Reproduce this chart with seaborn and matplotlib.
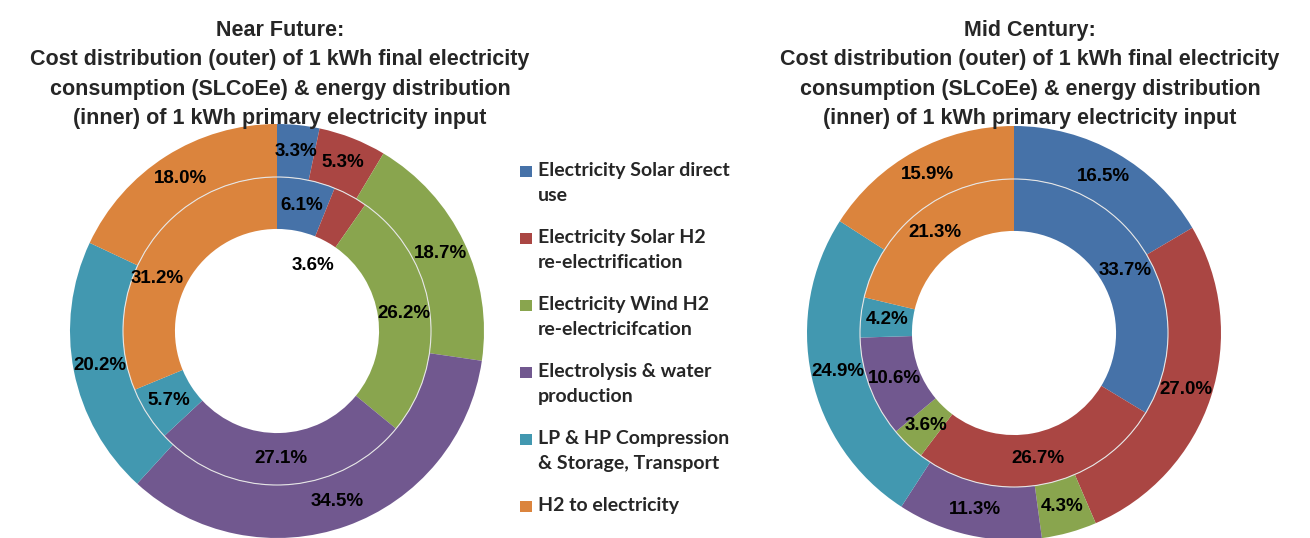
# -*- coding: utf-8 -*-

import numpy as np
import matplotlib
matplotlib.use('Agg')
import matplotlib.pyplot as plt
from matplotlib.patches import Circle, Rectangle
import seaborn as sns

# data
categories = ['Electricity Solar direct\nuse',
              'Electricity Solar H2\nre-electrification',
              'Electricity Wind H2\nre-electricifcation',
              'Electrolysis & water\nproduction',
              'LP & HP Compression\n& Storage, Transport',
              'H2 to electricity']

near_outer = [3.3, 5.3, 18.7, 34.5, 20.2, 18.0]
near_inner = [6.1, 3.6, 26.2, 27.1, 5.7, 31.2]
mid_outer = [16.5, 27.0, 4.3, 11.3, 24.9, 15.9]
mid_inner = [33.7, 26.7, 3.6, 10.6, 4.2, 21.3]

near_title = ('Near Future:\nCost distribution (outer) of 1 kWh final electricity\n'
              'consumption (SLCoEe) & energy distribution\n(inner) of 1 kWh primary electricity input')
mid_title = ('Mid Century:\nCost distribution (outer) of 1 kWh final electricity\n'
             'consumption (SLCoEe) & energy distribution\n(inner) of 1 kWh primary electricity input')

palette = sns.color_palette(['#4672A8', '#AA4643', '#89A54E', '#71588F', '#4298B0', '#DB843D'])

sns.set_theme(style='white')
plt.rcParams['font.family'] = ['Liberation Sans', 'DejaVu Sans']

W, H = 1310, 538
fig = plt.figure(figsize=(W / 100, H / 100), dpi=100)

R_OUT, R_MID, R_HOLE = 1.0, 0.744, 0.493


def donut(ax, outer, inner, label_pos=None):
    # label_pos: {(ring, idx): (radius, angle shift in deg)} for labels Excel moved
    label_pos = label_pos or {}
    rings = [('outer', outer, R_OUT, R_OUT - R_MID, (R_OUT + R_MID) / 2),
             ('inner', inner, R_MID, R_MID - R_HOLE, (R_MID + R_HOLE) / 2)]
    for name, vals, r, w, lr in rings:
        wedges, _ = ax.pie(vals, radius=r, colors=palette, startangle=90,
                           counterclock=False,
                           wedgeprops=dict(width=w, edgecolor='none'))
        for i, (wd, v) in enumerate(zip(wedges, vals)):
            rr, shift = label_pos.get((name, i), (lr, 0))
            ang = np.deg2rad((wd.theta1 + wd.theta2) / 2 + shift)
            ax.text(rr * np.cos(ang), rr * np.sin(ang), f'{v:.1f}%',
                    ha='center', va='center', fontsize=13.5, fontweight='bold',
                    color='black')
    ax.add_patch(Circle((0, 0), R_MID, fill=False, ec='#e6e6e6', lw=0.8))
    ax.set_xlim(-1, 1)
    ax.set_ylim(-1, 1)
    ax.set_aspect('equal')
    ax.axis('off')


def add_ax(cx, cy, r=207):
    return fig.add_axes([(cx - r) / W, (H - cy - r) / H, 2 * r / W, 2 * r / H])


ax1 = add_ax(277, 331)
donut(ax1, near_outer, near_inner,
      label_pos={('inner', 1): (0.36, 0), ('inner', 5): (0.633, 10)})
ax2 = add_ax(1014, 333)
donut(ax2, mid_outer, mid_inner)

fig.text(280 / W, 1 - 20 / H, near_title, ha='center', va='top',
         fontsize=15.5, fontweight='bold', linespacing=1.52)
fig.text(1030 / W, 1 - 20 / H, mid_title, ha='center', va='top',
         fontsize=15.5, fontweight='bold', linespacing=1.52)

# legend
for i, lab in enumerate(categories):
    y = 169 + i * 66.9
    fig.add_artist(Rectangle((520 / W, (H - y - 8) / H), 12 / W, 11 / H,
                             transform=fig.transFigure, color=palette[i], lw=0))
    fig.text(538 / W, 1 - (y - 7) / H, lab, ha='left', va='top',
             fontsize=14, fontweight='bold', family=['Lato', 'DejaVu Sans'],
             linespacing=1.6)

fig.savefig('out.png', dpi=100)
